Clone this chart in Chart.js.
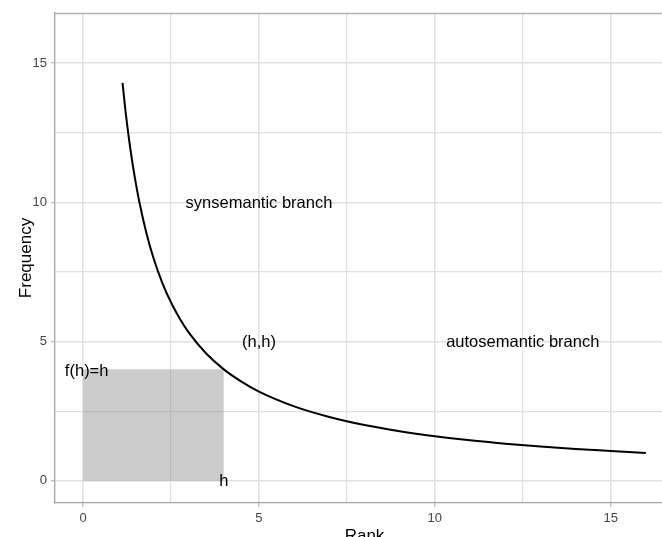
<!DOCTYPE html>
<html>
<head>
<meta charset="utf-8">
<script src="https://cdn.jsdelivr.net/npm/chart.js@4/dist/chart.umd.min.js"></script>
<style>
  html, body { margin: 0; padding: 0; background: #fff; overflow: hidden; width: 662px; height: 537px; }
  #wrap { position: absolute; left: 0; top: 0; width: 680px; height: 550px; }
</style>
</head>
<body>
<div id="wrap"><canvas id="c" width="680" height="550"></canvas></div>
<script>
// ---- data ----
const rankValues = [1.12, 1.2, 1.3, 1.4, 1.5, 1.6, 1.8, 2, 2.25, 2.5, 2.75, 3, 3.5, 4, 4.5, 5, 6, 7, 8, 9, 10, 11, 12, 13, 14, 15, 16];
const freqValues = [14.29, 13.33, 12.31, 11.43, 10.67, 10, 8.89, 8, 7.11, 6.4, 5.82, 5.33, 4.57, 4, 3.56, 3.2, 2.67, 2.29, 2, 1.78, 1.6, 1.45, 1.33, 1.23, 1.14, 1.07, 1.0];
const rectX = [0, 4];
const rectY = [4, 4];
const xTicks = [0, 2.5, 5, 7.5, 10, 12.5, 15];
const yTicks = [0, 2.5, 5, 7.5, 10, 12.5, 15];
const xTickLabels = ['0', '5', '10', '15'];
const yTickLabels = ['0', '5', '10', '15'];
const annotationTexts = ['synsemantic branch', '(h,h)', 'autosemantic branch', 'f(h)=h', 'h'];
const annotationX = [5, 5, 12.5, 0.1, 4];
const annotationY = [10, 5, 5, 3.95, 0];

const FONT = '"Liberation Sans", Arial, Helvetica, sans-serif';
const isMajor = v => Math.abs(v % 5) < 1e-9;

const annotationPlugin = {
  id: 'annot',
  afterDatasetsDraw(chart) {
    const ctx = chart.ctx;
    const xs = chart.scales.x, ys = chart.scales.y;
    ctx.save();
    ctx.fillStyle = '#000';
    ctx.font = '16.5px ' + FONT;
    ctx.textAlign = 'center';
    ctx.textBaseline = 'middle';
    annotationTexts.forEach((t, i) => {
      ctx.fillText(t, xs.getPixelForValue(annotationX[i]), ys.getPixelForValue(annotationY[i]) + 1);
    });
    ctx.restore();
  }
};

const borderPlugin = {
  id: 'panelBorder',
  afterDraw(chart) {
    const {ctx, chartArea: a} = chart;
    ctx.save();
    ctx.strokeStyle = '#b3b3b3';
    ctx.lineWidth = 1.3;
    ctx.beginPath();
    ctx.moveTo(a.left, a.top + 0.5);
    ctx.lineTo(a.right, a.top + 0.5);
    ctx.lineTo(a.right, a.bottom);
    ctx.stroke();
    ctx.restore();
  }
};

new Chart(document.getElementById('c'), {
  type: 'line',
  data: {
    datasets: [
      {
        data: rectX.map((x, i) => ({x, y: rectY[i]})),
        fill: 'origin',
        backgroundColor: 'rgba(127,127,127,0.4)',
        borderWidth: 0,
        pointRadius: 0,
        order: 2
      },
      {
        data: rankValues.map((x, i) => ({x, y: freqValues[i]})),
        borderColor: '#000',
        borderWidth: 2,
        pointRadius: 0,
        fill: false,
        cubicInterpolationMode: 'monotone',
        order: 1
      }
    ]
  },
  options: {
    responsive: false,
    devicePixelRatio: 1,
    animation: false,
    layout: { padding: { left: 0, top: 13, right: 6, bottom: 0 } },
    plugins: { legend: { display: false }, tooltip: { enabled: false } },
    scales: {
      x: {
        type: 'linear',
        min: -0.8, max: 16.8,
        afterBuildTicks: s => { s.ticks = xTicks.map(v => ({value: v})); },
        afterFit: s => { s.height = 47; },
        grid: {
          color: '#e0e0e0',
          lineWidth: ctx => (ctx.tick && isMajor(ctx.tick.value)) ? 1.5 : 1.2,
          tickColor: ctx => (ctx.tick && isMajor(ctx.tick.value)) ? '#a6a6a6' : 'rgba(0,0,0,0)',
          tickLength: 4,
          tickWidth: 1
        },
        border: { display: true, color: '#a6a6a6', width: 1.3 },
        ticks: {
          autoSkip: false,
          maxRotation: 0,
          padding: 4,
          color: '#444444',
          font: { family: FONT, size: 13 },
          callback: v => isMajor(v) ? xTickLabels[xTicks.filter(isMajor).indexOf(v)] : ''
        },
        title: {
          display: true,
          text: 'Rank',
          color: '#000',
          font: { family: FONT, size: 17 },
          padding: { top: 0, bottom: 3 }
        }
      },
      y: {
        type: 'linear',
        min: -0.8, max: 16.8,
        afterBuildTicks: s => { s.ticks = yTicks.map(v => ({value: v})); },
        afterFit: s => { s.width = 55; },
        grid: {
          color: '#e0e0e0',
          lineWidth: ctx => (ctx.tick && isMajor(ctx.tick.value)) ? 1.5 : 1.2,
          tickColor: ctx => (ctx.tick && isMajor(ctx.tick.value)) ? '#a6a6a6' : 'rgba(0,0,0,0)',
          tickLength: 4,
          tickWidth: 1
        },
        border: { display: true, color: '#a6a6a6', width: 1.3 },
        ticks: {
          autoSkip: false,
          padding: 4,
          color: '#444444',
          font: { family: FONT, size: 13 },
          callback: v => isMajor(v) ? yTickLabels[yTicks.filter(isMajor).indexOf(v)] : ''
        },
        title: {
          display: true,
          text: 'Frequency',
          color: '#000',
          font: { family: FONT, size: 17 },
          padding: { top: 16, bottom: 0 }
        }
      }
    }
  },
  plugins: [annotationPlugin, borderPlugin]
});
</script>
</body>
</html>
